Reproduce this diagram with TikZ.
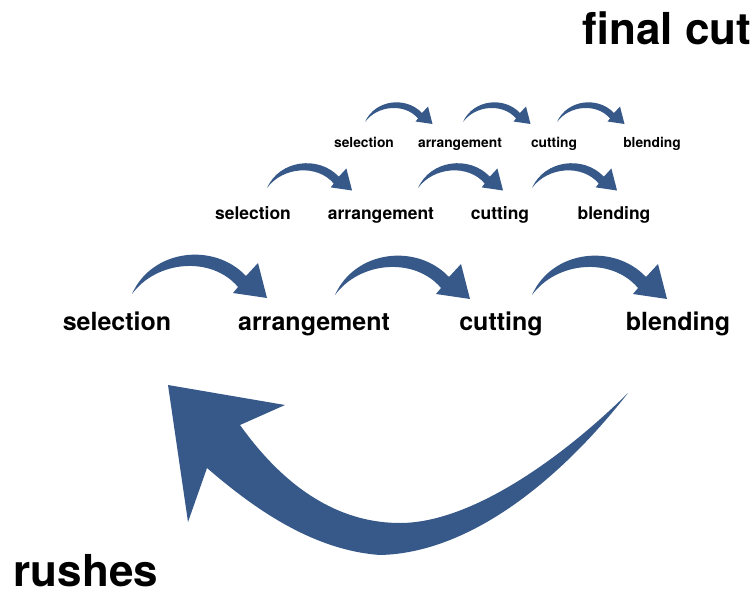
\documentclass[tikz,border=0pt]{standalone}
\usepackage{fontspec}
\setmainfont{TeX Gyre Heros}
\definecolor{swooshblue}{RGB}{54,89,137}

\begin{document}
\begin{tikzpicture}[x=0.75pt,y=-0.75pt,
  word/.style={anchor=base,inner sep=0pt},
  big/.style={word,font=\fontsize{18.75}{22}\selectfont\bfseries},
  mid/.style={word,font=\fontsize{13.1}{16}\selectfont\bfseries},
  small/.style={word,font=\fontsize{10.35}{12}\selectfont\bfseries},
  title/.style={word,font=\fontsize{33}{38}\selectfont\bfseries},
  swoosh/.pic={
    \fill[swooshblue] (0,0) .. controls (20,-45) and (82,-52) .. (114,-18)
      -- (126,-31) -- (135,4) -- (101,-1) -- (106,-7)
      .. controls (80,-38) and (25,-34) .. (0,0) -- cycle;
  }]
  \useasboundingbox (0,0) rectangle (756,599);

  % Titles
  \node[title] (final) at (667,45) {final cut};
  \node[title] (rushes) at (86,586) {rushes};

  % Bottom row
  \node[big] (sel1) at (117,330) {selection};
  \node[big] (arr1) at (314,330) {arrangement};
  \node[big] (cut1) at (501,330) {cutting};
  \node[big] (ble1) at (678,330) {blending};
  \pic at (132,294) {swoosh};
  \pic at (335,295) {swoosh};
  \pic at (532,295) {swoosh};

  % Middle row
  \node[mid] (sel2) at (253,219) {selection};
  \node[mid] (arr2) at (381,219) {arrangement};
  \node[mid] (cut2) at (500,219) {cutting};
  \node[mid] (ble2) at (614,219) {blending};
  \pic[scale=0.63] at (267,188) {swoosh};
  \pic[scale=0.63] at (418,188) {swoosh};
  \pic[scale=0.63] at (532,188) {swoosh};

  % Top row
  \node[small] (sel3) at (364,147) {selection};
  \node[small] (arr3) at (460,147) {arrangement};
  \node[small] (cut3) at (554,147) {cutting};
  \node[small] (ble3) at (652,147) {blending};
  \pic[scale=0.5] at (365,122) {swoosh};
  \pic[scale=0.5] at (463,122) {swoosh};
  \pic[scale=0.5] at (557,122) {swoosh};

  % Big return arrow
  \fill[swooshblue] (628,393) .. controls (560,480) and (470,553) .. (380,555)
    .. controls (310,550) and (250,505) .. (207,468)
    -- (188,522) -- (168,385) -- (285,405) -- (240,425)
    .. controls (290,495) and (345,523) .. (400,523)
    .. controls (470,523) and (560,460) .. (628,393) -- cycle;
\end{tikzpicture}
\end{document}
